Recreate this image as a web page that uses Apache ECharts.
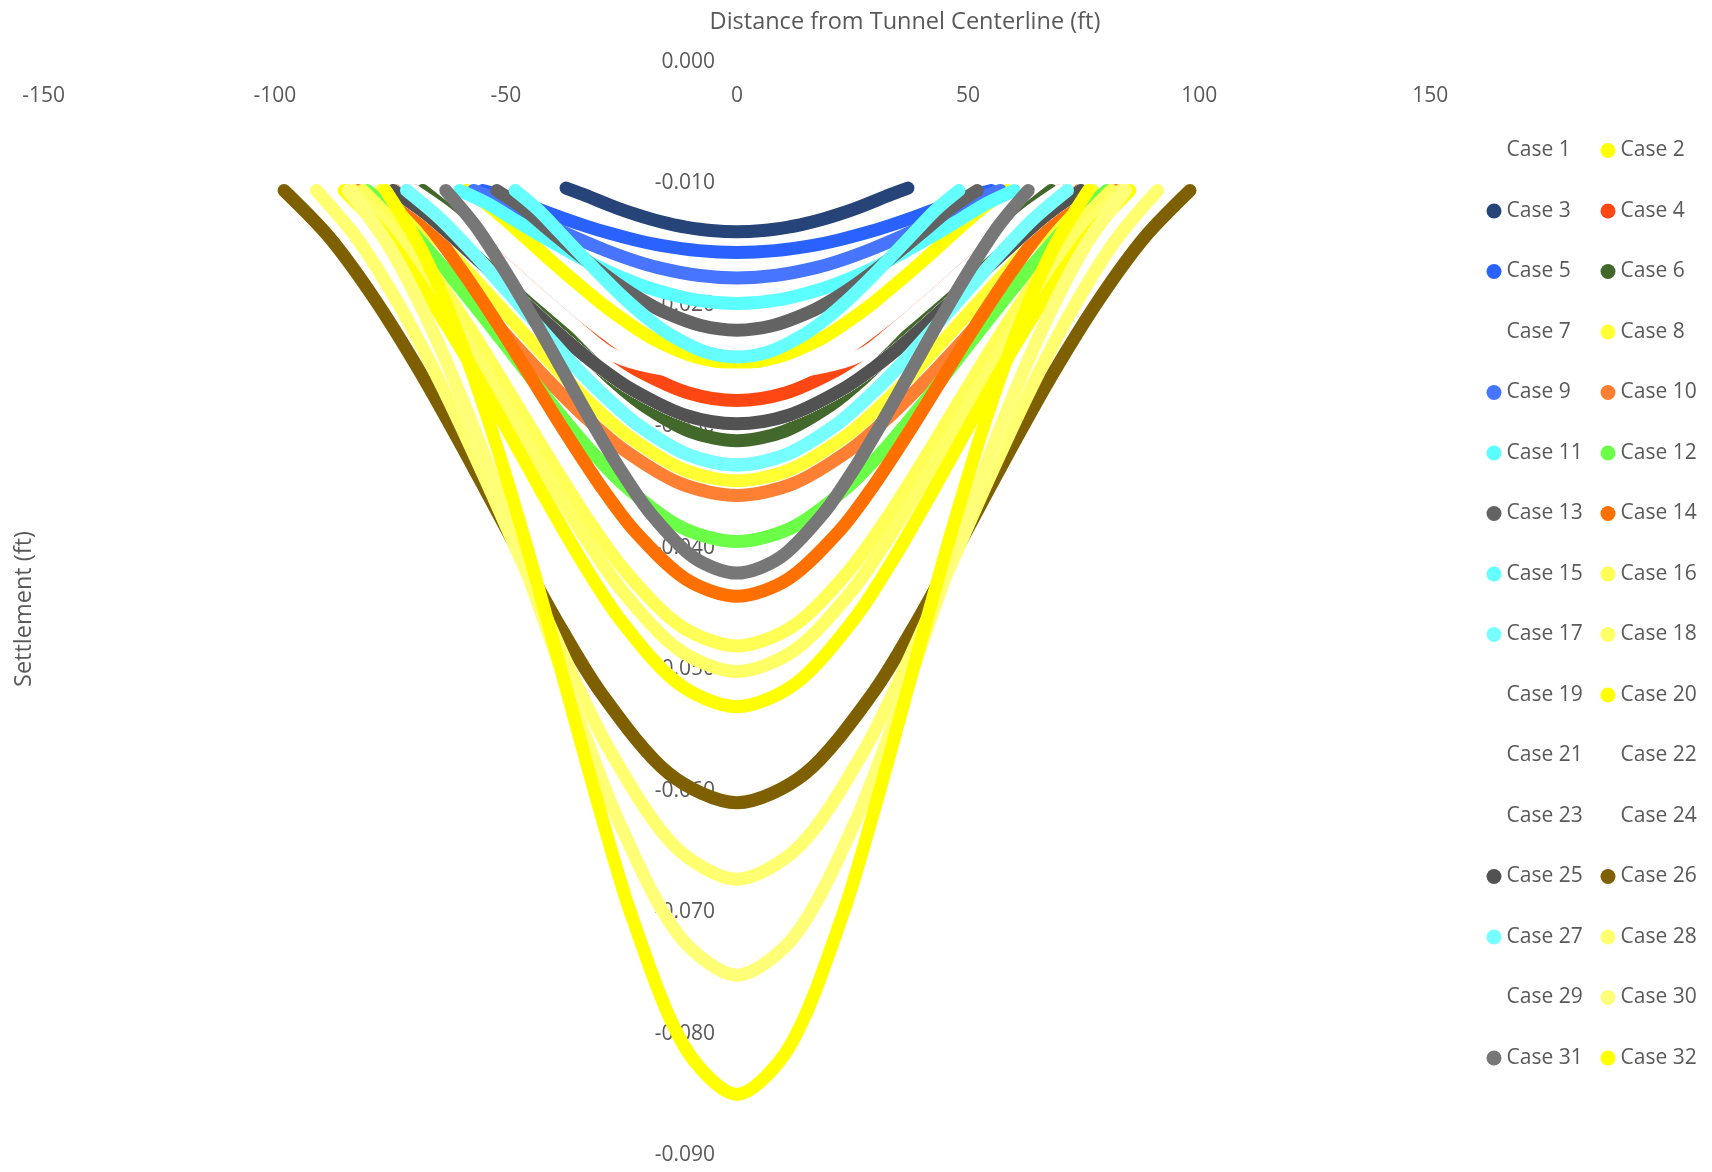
<!DOCTYPE html>
<html>
<head>
<meta charset="utf-8">
<title>Settlement troughs</title>
<script src="https://cdn.jsdelivr.net/npm/echarts@6/dist/echarts.min.js"></script>
<style>
  html, body { margin: 0; padding: 0; background: #ffffff; }
  #chart { width: 1712px; height: 1172px; }
</style>
</head>
<body>
<div id="chart"></div>
<script>
// half troughs, centerline out to the edge (distance ft, settlement ft)
const case1X = [0, 9, 18, 24, 30, 36, 42, 48, 54, 60];
const case1Y = [-0.0250, -0.0245, -0.02308, -0.0217, -0.02003, -0.0182, -0.0162, -0.01417, -0.01219, -0.0106];
const case2X = [0, 8.8, 17.6, 23.4, 29.3, 35.1, 41, 46.8, 52.7, 58.5];
const case2Y = [-0.0248, -0.02431, -0.02292, -0.02155, -0.01991, -0.01807, -0.01612, -0.01413, -0.01217, -0.0106];
const case3X = [0, 5.6, 11.1, 14.8, 18.5, 22.2, 25.9, 29.6, 33.3, 37];
const case3Y = [-0.0140, -0.0139, -0.01362, -0.01333, -0.01297, -0.01254, -0.01205, -0.0115, -0.01092, -0.0104];
const case4X = [0, 10.5, 21, 28, 35, 42, 49, 56, 63, 70];
const case4Y = [-0.0279, -0.02728, -0.02551, -0.02379, -0.02175, -0.01949, -0.01712, -0.01474, -0.01245, -0.0106];
const case5X = [0, 8.25, 16.5, 22, 27.5, 33, 38.5, 44, 49.5, 55];
const case5Y = [-0.0157, -0.01555, -0.01512, -0.01468, -0.01413, -0.01349, -0.01277, -0.01199, -0.01116, -0.0106];
const case6X = [0, 10.2, 20.4, 27.2, 34, 40.8, 47.6, 54.4, 61.2, 68];
const case6Y = [-0.0312, -0.03043, -0.02824, -0.02613, -0.02365, -0.02094, -0.01813, -0.01535, -0.01271, -0.0106];
const case7X = [0, 10.5, 21, 28, 35, 42, 49, 56, 63, 70];
const case7Y = [-0.0258, -0.0256, -0.0249, -0.0239, -0.02175, -0.01949, -0.01712, -0.01474, -0.01245, -0.0106];
const case8X = [0, 11.55, 23.1, 30.8, 38.5, 46.2, 53.9, 61.6, 69.3, 77];
const case8Y = [-0.0345, -0.03358, -0.03094, -0.02843, -0.0255, -0.02233, -0.01908, -0.01592, -0.01296, -0.0106];
const case9X = [0, 8.55, 17.1, 22.8, 28.5, 34.2, 39.9, 45.6, 51.3, 57];
const case9Y = [-0.0178, -0.01758, -0.01695, -0.01631, -0.01552, -0.01462, -0.01362, -0.01254, -0.01143, -0.0106];
const case10X = [0, 12.3, 24.6, 32.8, 41, 49.2, 57.4, 65.6, 73.8, 82];
const case10Y = [-0.0357, -0.03471, -0.03192, -0.02926, -0.02617, -0.02282, -0.01941, -0.01612, -0.01304, -0.0106];
const case11X = [0, 9, 18, 24, 30, 36, 42, 48, 54, 60];
const case11Y = [-0.0199, -0.01961, -0.01875, -0.01791, -0.01688, -0.0157, -0.01441, -0.01305, -0.01167, -0.0106];
const case12X = [0, 12, 24, 32, 40, 48, 56, 64, 72, 80];
const case12Y = [-0.0395, -0.03833, -0.035, -0.03186, -0.02823, -0.02435, -0.02045, -0.01671, -0.0133, -0.0106];
const case13X = [0, 7.8, 15.6, 20.8, 26, 31.2, 36.4, 41.6, 46.8, 52];
const case13Y = [-0.0221, -0.02172, -0.02063, -0.01956, -0.01826, -0.01679, -0.0152, -0.01356, -0.01191, -0.0106];
const case14X = [0, 11.1, 22.2, 29.6, 37, 44.4, 51.8, 59.2, 66.6, 74];
const case14Y = [-0.0440, -0.04258, -0.03861, -0.03488, -0.03061, -0.02609, -0.0216, -0.01737, -0.01357, -0.0106];
const case15X = [0, 7.2, 14.4, 19.2, 24, 28.8, 33.6, 38.4, 43.2, 48];
const case15Y = [-0.0243, -0.02384, -0.02249, -0.02118, -0.01961, -0.01784, -0.01596, -0.01403, -0.01213, -0.0106];
const case16X = [0, 12.15, 24.3, 32.4, 40.5, 48.6, 56.7, 64.8, 72.9, 81];
const case16Y = [-0.0481, -0.04646, -0.04187, -0.03759, -0.03272, -0.02762, -0.0226, -0.01794, -0.0138, -0.0106];
const case18X = [0, 12.45, 24.9, 33.2, 41.5, 49.8, 58.1, 66.4, 74.7, 83];
const case18Y = [-0.0502, -0.04844, -0.04353, -0.03897, -0.03378, -0.02838, -0.0231, -0.01822, -0.01392, -0.0106];
const case20X = [0, 12.75, 25.5, 34, 42.5, 51, 59.5, 68, 76.5, 85];
const case20Y = [-0.0531, -0.05118, -0.04581, -0.04084, -0.03524, -0.02942, -0.02377, -0.01859, -0.01407, -0.0106];
const case25X = [0, 11.2, 22.3, 29.8, 37.2, 44.6, 52.1, 59.5, 67, 74.4];
const case25Y = [-0.0298, -0.0291, -0.02708, -0.02514, -0.02285, -0.02033, -0.01771, -0.0151, -0.0126, -0.0106];
const case26X = [0, 14.7, 29.4, 39.2, 49, 58.8, 68.6, 78.4, 88.2, 98];
const case26Y = [-0.0610, -0.05861, -0.05197, -0.04589, -0.0391, -0.03216, -0.02552, -0.01954, -0.01445, -0.0106];
const case27X = [0, 10.7, 21.5, 28.6, 35.8, 42.9, 50.1, 57.2, 64.4, 71.5];
const case27Y = [-0.0332, -0.03234, -0.02988, -0.02753, -0.02478, -0.02178, -0.01871, -0.0157, -0.01287, -0.0106];
const case28X = [0, 13.65, 27.3, 36.4, 45.5, 54.6, 63.7, 72.8, 81.9, 91];
const case28Y = [-0.0673, -0.06452, -0.05684, -0.04984, -0.04209, -0.03424, -0.02683, -0.02024, -0.01471, -0.0106];
const case30X = [0, 12.6, 25.2, 33.6, 42, 50.4, 58.8, 67.2, 75.6, 84];
const case30Y = [-0.0752, -0.07191, -0.06288, -0.05471, -0.04575, -0.03676, -0.02839, -0.02107, -0.01502, -0.0106];
const case31X = [0, 9.45, 18.9, 25.2, 31.5, 37.8, 44.1, 50.4, 56.7, 63];
const case31Y = [-0.0421, -0.04079, -0.03709, -0.03361, -0.02961, -0.02536, -0.02112, -0.0171, -0.01346, -0.0106];
const case32X = [0, 11.4, 22.8, 30.4, 38, 45.6, 53.2, 60.8, 68.4, 76];
const case32Y = [-0.0850, -0.08106, -0.0703, -0.06064, -0.05015, -0.03976, -0.03022, -0.02202, -0.01538, -0.0106];

// cases that do not show sit under the trough drawn after them
const halfX = [case1X, case2X, case3X, case4X, case5X, case6X, case7X, case8X,
  case9X, case10X, case11X, case12X, case13X, case14X, case15X, case16X,
  case27X, case18X, case20X, case20X, case25X, case25X, case25X, case25X,
  case25X, case26X, case27X, case28X, case30X, case30X, case31X, case32X];
const halfY = [case1Y, case2Y, case3Y, case4Y, case5Y, case6Y, case7Y, case8Y,
  case9Y, case10Y, case11Y, case12Y, case13Y, case14Y, case15Y, case16Y,
  case27Y, case18Y, case20Y, case20Y, case25Y, case25Y, case25Y, case25Y,
  case25Y, case26Y, case27Y, case28Y, case30Y, case30Y, case31Y, case32Y];

const caseColors = [
  '#FFFFFF', '#FFFF00', '#264478', '#FF4713', '#2962FF', '#43682B', '#FFFFFF', '#FFFF33',
  '#4775FF', '#FF7F33', '#5CFFFF', '#6BFF47', '#636363', '#FF7000', '#66FFFF', '#FFFF55',
  '#77FFFF', '#FFFF66', '#FFFFFF', '#FFFF00', '#FFFFFF', '#FFFFFF', '#FFFFFF', '#FFFFFF',
  '#525252', '#7F6000', '#77FFFF', '#FFFF70', '#FFFFFF', '#FFFF77', '#777777', '#FFFF00'
];
const caseNames = caseColors.map((c, i) => 'Case ' + (i + 1));

const font = '"Open Sans", "Noto Sans", sans-serif';
const textColor = '#595959';

// both sides of the centerline
function trough(xs, ys) {
  const pts = [];
  for (let k = xs.length - 1; k > 0; k--) pts.push([-xs[k], ys[k]]);
  for (let k = 0; k < xs.length; k++) pts.push([xs[k], ys[k]]);
  return pts;
}

const series = caseNames.map((name, i) => ({
  name: name,
  type: 'line',
  data: trough(halfX[i], halfY[i]),
  smooth: 0.3,
  symbol: 'none',
  silent: true,
  lineStyle: { width: 13, color: caseColors[i], cap: 'round', join: 'round' },
  itemStyle: { color: caseColors[i] }
}));

const legendBase = {
  orient: 'vertical',
  top: 138.5,
  padding: 0,
  itemWidth: 15,
  itemHeight: 15,
  itemGap: 36.5,
  icon: 'circle',
  selectedMode: false,
  textStyle: { fontFamily: font, fontSize: 21, color: textColor, lineHeight: 24 }
};

const chart = echarts.init(document.getElementById('chart'));
chart.setOption({
  animation: false,
  backgroundColor: '#ffffff',
  grid: { left: 43.7, right: 281.7, top: 61.7, bottom: 17 },
  xAxis: {
    type: 'value',
    position: 'top',
    min: -150,
    max: 150,
    interval: 50,
    axisLine: { show: false },
    axisTick: { show: false },
    splitLine: { show: false },
    axisLabel: { inside: true, margin: 24, fontFamily: font, fontSize: 21, color: textColor }
  },
  yAxis: {
    type: 'value',
    min: -0.09,
    max: 0,
    interval: 0.01,
    // labels sit on the centerline (x = 0)
    offset: -693.3,
    axisLine: { show: false, onZero: false },
    axisTick: { show: false },
    splitLine: { show: false },
    axisLabel: {
      margin: 22,
      showMinLabel: true,
      showMaxLabel: true,
      fontFamily: font,
      fontSize: 21,
      color: textColor,
      formatter: v => v.toFixed(3)
    }
  },
  legend: [
    Object.assign({}, legendBase, { left: 1486.5, data: caseNames.filter((n, i) => i % 2 === 0) }),
    Object.assign({}, legendBase, { left: 1600.5, data: caseNames.filter((n, i) => i % 2 === 1) })
  ],
  graphic: [
    {
      type: 'text', x: 905, y: 22,
      style: { text: 'Distance from Tunnel Centerline (ft)', font: '23.5px ' + font, fill: textColor, align: 'center', verticalAlign: 'middle' }
    },
    {
      type: 'text', x: 24, y: 609, rotation: Math.PI / 2,
      style: { text: 'Settlement (ft)', font: '23.5px ' + font, fill: textColor, align: 'center', verticalAlign: 'middle' }
    }
  ],
  series: series
});
</script>
</body>
</html>
